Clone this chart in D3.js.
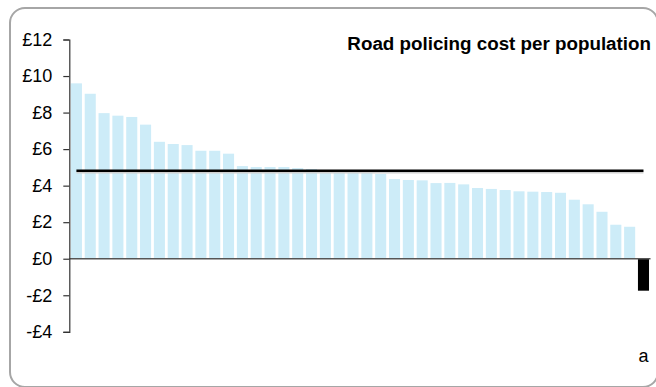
<!DOCTYPE html>
<html>
<head>
<meta charset="utf-8">
<script src="https://cdn.jsdelivr.net/npm/d3@7"></script>
<style>
  html, body { margin: 0; padding: 0; background: #fff; }
  svg { display: block; font-family: "Liberation Sans", Arial, sans-serif; }
</style>
</head>
<body>
<svg id="chart" width="656" height="387"></svg>
<script>
// ---- data ----
const title = "Road policing cost per population";
const categories = ["f01","f02","f03","f04","f05","f06","f07","f08","f09","f10",
  "f11","f12","f13","f14","f15","f16","f17","f18","f19","f20",
  "f21","f22","f23","f24","f25","f26","f27","f28","f29","f30",
  "f31","f32","f33","f34","f35","f36","f37","f38","f39","f40",
  "f41","a"];
const shownLabels = ["a"];
const values = [9.60, 9.03, 7.97, 7.83, 7.76, 7.34, 6.40, 6.28, 6.22, 5.91,
  5.91, 5.75, 5.07, 5.02, 5.02, 5.02, 4.96, 4.91, 4.86, 4.84,
  4.82, 4.78, 4.64, 4.36, 4.31, 4.29, 4.14, 4.15, 4.07, 3.87,
  3.82, 3.76, 3.69, 3.67, 3.65, 3.61, 3.23, 2.98, 2.57, 1.86,
  1.75, -1.75];
const highlighted = ["a"];
const average = 4.82;
const yTicks = [-4, -2, 0, 2, 4, 6, 8, 10, 12];
const yDomain = [-4, 12];

// ---- drawing ----
const svg = d3.select("#chart");

svg.append("rect")
  .attr("x", 10).attr("y", 8)
  .attr("width", 648).attr("height", 379)
  .attr("rx", 15).attr("ry", 15)
  .attr("fill", "#fff")
  .attr("stroke", "#a6a6a6")
  .attr("stroke-width", 2);

const x = d3.scaleBand()
  .domain(categories)
  .range([69.5, 650.4])
  .paddingInner(0.2)
  .paddingOuter(0.1);

const y = d3.scaleLinear()
  .domain(yDomain)
  .range([331.8, 39.5]);

// bars
svg.append("g").selectAll("rect")
  .data(categories.map((c, i) => ({ c, v: values[i] })))
  .join("rect")
  .attr("x", d => x(d.c))
  .attr("width", x.bandwidth())
  .attr("y", d => y(Math.max(0, d.v)))
  .attr("height", d => Math.abs(y(d.v) - y(0)))
  .attr("fill", d => highlighted.includes(d.c) ? "#000" : "#cdecf8");

// zero line
svg.append("line")
  .attr("x1", 69.3).attr("x2", 650.5)
  .attr("y1", y(0)).attr("y2", y(0))
  .attr("stroke", "#555").attr("stroke-width", 1.5);

// average line (with faint shadow)
const xa1 = x(categories[0]) + x.bandwidth() / 2;
const xa2 = x(categories[categories.length - 1]) + x.bandwidth() / 2;
svg.append("line")
  .attr("x1", xa1).attr("x2", xa2)
  .attr("y1", y(average) + 2).attr("y2", y(average) + 2)
  .attr("stroke", "#d0d0d0").attr("stroke-width", 1.5);
svg.append("line")
  .attr("x1", xa1).attr("x2", xa2)
  .attr("y1", y(average)).attr("y2", y(average))
  .attr("stroke", "#000").attr("stroke-width", 2.5);

// y axis
const yAxis = d3.axisLeft(y)
  .tickValues(yTicks)
  .tickSize(6)
  .tickPadding(11)
  .tickFormat(d => (d < 0 ? "-" : "") + "£" + Math.abs(d));
const gy = svg.append("g")
  .attr("transform", "translate(69.3,0)")
  .call(yAxis);
gy.select(".domain").attr("stroke", "#333").attr("stroke-width", 1.2);
gy.selectAll(".tick line").attr("stroke", "#333").attr("stroke-width", 1.2);
gy.selectAll(".tick text")
  .attr("fill", "#000")
  .style("font-size", "18px")
  .style("font-family", "'Liberation Sans', Arial, sans-serif");

// category labels (only shown ones)
svg.append("g").selectAll("text")
  .data(categories.filter(c => shownLabels.includes(c)))
  .join("text")
  .attr("x", d => x(d) + x.bandwidth() / 2)
  .attr("y", 362)
  .attr("text-anchor", "middle")
  .attr("font-size", 18)
  .attr("fill", "#000")
  .text(d => d);

// title
svg.append("text")
  .attr("x", 651)
  .attr("y", 50)
  .attr("text-anchor", "end")
  .attr("font-size", 18.8)
  .attr("font-weight", "bold")
  .attr("fill", "#000")
  .text(title);
</script>
</body>
</html>
